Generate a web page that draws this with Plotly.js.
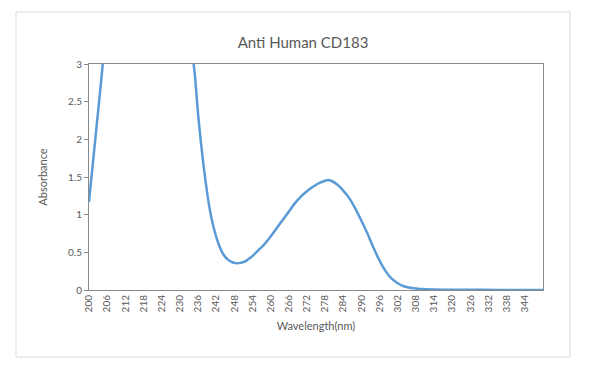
<!DOCTYPE html>
<html>
<head>
<meta charset="utf-8">
<script src="https://cdn.plot.ly/plotly-3.0.1.min.js"></script>
<style>html,body{margin:0;padding:0;background:#fff;}#chart{width:600px;height:374px;}</style>
</head>
<body>
<div id="chart"></div>
<script>
const wavelength = [200,202,204,206,210,220,230,233,234,235,236,237,238,239,240,241,242,243,244,245,246,247,248,249,250,251,252,253,254,255,256,258,260,262,264,266,268,270,272,274,276,278,279,280,282,284,286,288,290,292,294,296,298,300,302,304,306,308,310,314,320,330,340,350];
const absorbance = [1.17,1.97,2.77,3.57,4.5,5.0,4.5,3.6,3.2,2.85,2.35,1.95,1.6,1.3,1.05,0.86,0.71,0.59,0.5,0.44,0.4,0.375,0.36,0.355,0.36,0.37,0.39,0.42,0.45,0.49,0.53,0.61,0.71,0.82,0.93,1.04,1.15,1.24,1.31,1.37,1.42,1.45,1.46,1.45,1.40,1.32,1.22,1.08,0.92,0.75,0.56,0.39,0.25,0.15,0.09,0.05,0.03,0.02,0.012,0.006,0.003,0.002,0.001,0.001];
const xTicks = [200,206,212,218,224,230,236,242,248,254,260,266,272,278,284,290,296,302,308,314,320,326,332,338,344];
const yTicks = [0,0.5,1,1.5,2,2.5,3];
const yTickText = ['0','0.5','1','1.5','2','2.5','3'];

const font = 'Lato, "Open Sans", sans-serif';
const gray = '#595959';

Plotly.newPlot('chart', [{
  x: wavelength, y: absorbance, type: 'scatter', mode: 'lines',
  line: {color: '#5b9bd5', width: 2.5, shape: 'spline', smoothing: 0.5},
  hoverinfo: 'skip'
}], {
  width: 600, height: 374,
  margin: {l: 89, r: 57, t: 64, b: 84},
  paper_bgcolor: '#fff', plot_bgcolor: '#fff',
  showlegend: false,
  font: {family: font, color: gray},
  title: {text: 'Anti Human CD183', font: {family: font, size: 15, color: gray}, x: 0.505, xanchor: 'center', y: 1 - 43/374, yanchor: 'middle', yref: 'container'},
  xaxis: {
    range: [200, 350], tickvals: xTicks, ticktext: xTicks.map(String), tickangle: -90,
    showgrid: false, zeroline: false, ticks: '', showline: true, mirror: true,
    linecolor: '#898989', linewidth: 1, tickfont: {size: 10, color: gray, family: font},
    title: {text: 'Wavelength(nm)', font: {size: 11, color: gray, family: font}, standoff: 10}
  },
  yaxis: {
    range: [0, 3], tickvals: yTicks, ticktext: yTickText,
    showgrid: false, zeroline: false, ticks: 'outside', ticklen: 4, tickcolor: '#898989',
    showline: true, mirror: true, linecolor: '#898989', linewidth: 1,
    tickfont: {size: 10, color: gray, family: font},
    title: {text: 'Absorbance', font: {size: 11, color: gray, family: font}, standoff: 18}
  },
  shapes: [{
    type: 'rect', xref: 'paper', yref: 'paper',
    x0: (16-89)/454, x1: (570-89)/454, y0: (290-357)/226, y1: (290-12)/226,
    line: {color: '#d9d9d9', width: 1}, fillcolor: 'rgba(0,0,0,0)', layer: 'below'
  }]
}, {displayModeBar: false, staticPlot: true});
</script>
</body>
</html>
